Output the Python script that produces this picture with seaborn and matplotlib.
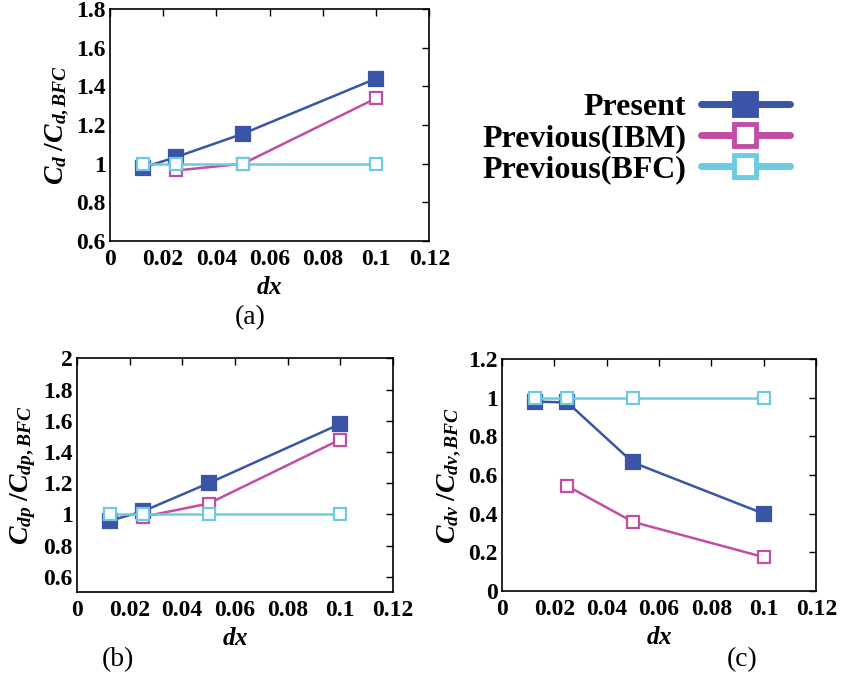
import matplotlib
matplotlib.use("Agg")
import matplotlib.pyplot as plt
from matplotlib.lines import Line2D
import seaborn as sns
import pandas as pd

# ---- data ----
dx_present = [0.0125, 0.025, 0.05, 0.1]
dx_ibm = [0.025, 0.05, 0.1]
dx_bfc = [0.0125, 0.025, 0.05, 0.1]

cd_present = [0.98, 1.035, 1.155, 1.44]
cd_ibm = [0.965, 1.0, 1.338]
cd_bfc = [1.0, 1.0, 1.0, 1.0]

cdp_present = [0.96, 1.02, 1.2, 1.58]
cdp_ibm = [0.985, 1.07, 1.48]
cdp_bfc = [1.0, 1.0, 1.0, 1.0]

cdv_present = [0.98, 0.975, 0.665, 0.40]
cdv_ibm = [0.543, 0.358, 0.176]
cdv_bfc = [1.0, 1.0, 1.0, 1.0]

series_names = ["Present", "Previous(IBM)", "Previous(BFC)"]
xticks = [0, 0.02, 0.04, 0.06, 0.08, 0.1, 0.12]
xticklabels = ["0", "0.02", "0.04", "0.06", "0.08", "0.1", "0.12"]
yticks_a = [0.6, 0.8, 1.0, 1.2, 1.4, 1.6, 1.8]
yticklabels_a = ["0.6", "0.8", "1", "1.2", "1.4", "1.6", "1.8"]
yticks_b = [0.6, 0.8, 1.0, 1.2, 1.4, 1.6, 1.8, 2.0]
yticklabels_b = ["0.6", "0.8", "1", "1.2", "1.4", "1.6", "1.8", "2"]
yticks_c = [0, 0.2, 0.4, 0.6, 0.8, 1.0, 1.2]
yticklabels_c = ["0", "0.2", "0.4", "0.6", "0.8", "1", "1.2"]

colors = {"Present": "#3a54a8", "Previous(IBM)": "#c04ea3", "Previous(BFC)": "#6ccbe0"}

sns.set_theme(style="white")
plt.rcParams["font.family"] = ["Liberation Serif", "DejaVu Serif"]
plt.rcParams["font.weight"] = "bold"
plt.rcParams["text.color"] = "black"
plt.rcParams["axes.labelcolor"] = "black"
plt.rcParams["xtick.color"] = "black"
plt.rcParams["ytick.color"] = "black"
plt.rcParams["mathtext.fontset"] = "custom"
plt.rcParams["mathtext.rm"] = "Liberation Serif:bold"
plt.rcParams["mathtext.it"] = "Liberation Serif:italic:bold"
plt.rcParams["mathtext.bf"] = "Liberation Serif:bold"

fig = plt.figure(figsize=(8.45, 6.85), dpi=100)
ax_a = fig.add_axes([0.130, 0.648, 0.378, 0.339])
ax_b = fig.add_axes([0.091, 0.136, 0.374, 0.341])
ax_c = fig.add_axes([0.594, 0.137, 0.372, 0.339])


def draw(ax, xs, ys, yticks, yticklabels, ylim, ylabel):
    for name, x, y in zip(series_names, xs, ys):
        df = pd.DataFrame({"dx": x, "v": y})
        face = colors[name] if name == "Present" else "white"
        sns.lineplot(data=df, x="dx", y="v", ax=ax, color=colors[name],
                     linewidth=1.8, marker="s", markersize=10 if name == "Present" else 9,
                     markerfacecolor=face, markeredgecolor=colors[name],
                     markeredgewidth=1.6, legend=False, estimator=None, sort=False)
    ax.set_xlim(0, 0.12)
    ax.set_ylim(*ylim)
    ax.set_xticks(xticks)
    ax.set_xticklabels(xticklabels)
    ax.set_yticks(yticks)
    ax.set_yticklabels(yticklabels)
    ax.tick_params(direction="in", length=5, width=1, top=True, right=True,
                   labelsize=17, colors="black")
    ax.tick_params(axis="x", pad=6)
    ax.tick_params(axis="y", pad=3)
    for lab in ax.get_xticklabels() + ax.get_yticklabels():
        lab.set_fontweight("bold")
    for s in ax.spines.values():
        s.set_color("black")
        s.set_linewidth(1.2)
    ax.set_xlabel(r"$dx$", fontsize=18, labelpad=5, color="black")
    ax.set_ylabel(ylabel, fontsize=20, labelpad=4, color="black")


draw(ax_a, [dx_present, dx_ibm, dx_bfc], [cd_present, cd_ibm, cd_bfc],
     yticks_a, yticklabels_a, (0.6, 1.8), r"$C_d\;/C_{d,BFC}$")
draw(ax_b, [dx_present, dx_ibm, dx_bfc], [cdp_present, cdp_ibm, cdp_bfc],
     yticks_b, yticklabels_b, (0.505, 2.0), r"$C_{dp}\;/C_{dp,BFC}$")
draw(ax_c, [dx_present, dx_ibm, dx_bfc], [cdv_present, cdv_ibm, cdv_bfc],
     yticks_c, yticklabels_c, (0, 1.2), r"$C_{dv}\;/C_{dv,BFC}$")

fig.text(250 / 845, 1 - 318 / 685, "(a)", fontsize=20, fontweight="normal",
         ha="center", va="center", color="black")
fig.text(118 / 845, 1 - 660 / 685, "(b)", fontsize=20, fontweight="normal",
         ha="center", va="center", color="black")
fig.text(742 / 845, 1 - 660 / 685, "(c)", fontsize=20, fontweight="normal",
         ha="center", va="center", color="black")

handles = []
for name in series_names:
    face = colors[name] if name == "Present" else "white"
    handles.append(Line2D([], [], color=colors[name], linewidth=5, marker="s",
                          markersize=16, markerfacecolor=face,
                          markeredgecolor=colors[name], markeredgewidth=3.5))
leg = fig.legend(handles, series_names, loc="upper right",
                 bbox_to_anchor=(803 / 845, 1 - 80 / 685),
                 frameon=False, markerfirst=False, handlelength=2.8,
                 labelspacing=0.05, handletextpad=0.45, borderaxespad=0,
                 prop={"family": "Liberation Serif", "weight": "bold", "size": 23})
for t in leg.get_texts():
    t.set_color("black")

fig.savefig("out.png", dpi=100)
